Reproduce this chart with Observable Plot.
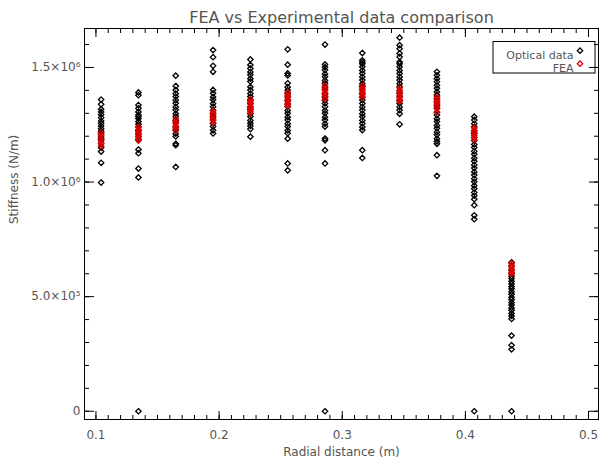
<!DOCTYPE html>
<html><head><meta charset="utf-8">
<script src="https://cdn.jsdelivr.net/npm/d3@7"></script>
<script src="https://cdn.jsdelivr.net/npm/@observablehq/plot@0.6"></script>
<style>body{margin:0;background:#fff} svg{display:block}</style>
</head><body><div id="chart"></div>
<script>
// Radial positions (m) of the 12 measurement stations
const radialPositions = [0.1042, 0.1345, 0.1648, 0.1951, 0.2254, 0.2557, 0.2860, 0.3163, 0.3466, 0.3769, 0.4072, 0.4375];

// Optical (experimental) stiffness, in 10^6 N/m, per station
const optical01 = [1.360, 1.339, 1.318, 1.306, 1.294, 1.281, 1.266, 1.256, 1.245, 1.233, 1.222, 1.210, 1.197, 1.186, 1.168, 1.150, 1.133, 1.084, 0.998];
const optical02 = [1.391, 1.379, 1.336, 1.322, 1.306, 1.293, 1.286, 1.277, 1.263, 1.252, 1.241, 1.226, 1.213, 1.198, 1.184, 1.142, 1.126, 1.059, 1.020, 0];
const optical03 = [1.464, 1.419, 1.402, 1.386, 1.373, 1.357, 1.344, 1.327, 1.315, 1.298, 1.286, 1.269, 1.257, 1.240, 1.228, 1.211, 1.199, 1.167, 1.161, 1.066];
const optical04 = [1.576, 1.545, 1.507, 1.481, 1.402, 1.388, 1.371, 1.359, 1.342, 1.329, 1.313, 1.300, 1.284, 1.271, 1.255, 1.242, 1.226, 1.212];
const optical05 = [1.535, 1.511, 1.496, 1.480, 1.468, 1.451, 1.439, 1.415, 1.402, 1.386, 1.373, 1.357, 1.344, 1.327, 1.315, 1.298, 1.286, 1.269, 1.257, 1.245, 1.231, 1.198];
const optical06 = [1.579, 1.512, 1.474, 1.465, 1.431, 1.414, 1.401, 1.387, 1.371, 1.358, 1.341, 1.329, 1.312, 1.300, 1.283, 1.271, 1.254, 1.242, 1.225, 1.213, 1.189, 1.081, 1.051];
const optical07 = [1.600, 1.513, 1.501, 1.489, 1.472, 1.460, 1.443, 1.431, 1.414, 1.402, 1.385, 1.373, 1.356, 1.343, 1.329, 1.312, 1.300, 1.283, 1.271, 1.254, 1.242, 1.190, 1.182, 1.139, 1.081, 0];
const optical08 = [1.563, 1.531, 1.523, 1.516, 1.503, 1.487, 1.474, 1.458, 1.445, 1.429, 1.416, 1.400, 1.387, 1.371, 1.358, 1.343, 1.327, 1.314, 1.298, 1.285, 1.269, 1.256, 1.240, 1.227, 1.139, 1.105];
const optical09 = [1.630, 1.597, 1.582, 1.561, 1.546, 1.524, 1.516, 1.503, 1.487, 1.474, 1.458, 1.445, 1.429, 1.416, 1.400, 1.387, 1.371, 1.358, 1.343, 1.327, 1.314, 1.298, 1.252];
const optical10 = [1.481, 1.466, 1.451, 1.438, 1.422, 1.409, 1.393, 1.380, 1.364, 1.351, 1.335, 1.322, 1.305, 1.293, 1.276, 1.264, 1.247, 1.235, 1.218, 1.206, 1.189, 1.177, 1.167, 1.117, 1.027];
const optical11 = [1.285, 1.271, 1.254, 1.241, 1.224, 1.211, 1.194, 1.181, 1.164, 1.151, 1.134, 1.121, 1.104, 1.091, 1.074, 1.061, 1.044, 1.031, 1.014, 1.001, 0.984, 0.971, 0.954, 0.941, 0.925, 0.899, 0.855, 0.838, 0];
const optical12 = [0.650, 0.636, 0.616, 0.601, 0.589, 0.579, 0.567, 0.556, 0.544, 0.534, 0.521, 0.511, 0.497, 0.488, 0.474, 0.464, 0.451, 0.441, 0.427, 0.416, 0.403, 0.330, 0.288, 0.270, 0];

// FEA stiffness, in 10^6 N/m, per station
const fea01 = [1.215, 1.204, 1.191, 1.179, 1.168, 1.157];
const fea02 = [1.240, 1.229, 1.221, 1.209, 1.201, 1.189, 1.181];
const fea03 = [1.276, 1.264, 1.256, 1.244, 1.236, 1.224];
const fea04 = [1.311, 1.299, 1.291, 1.279, 1.271, 1.259];
const fea05 = [1.361, 1.349, 1.341, 1.329, 1.321, 1.309, 1.301];
const fea06 = [1.391, 1.379, 1.371, 1.359, 1.351, 1.339, 1.331];
const fea07 = [1.421, 1.409, 1.401, 1.389, 1.381, 1.369, 1.361];
const fea08 = [1.421, 1.409, 1.401, 1.389, 1.381, 1.369];
const fea09 = [1.411, 1.399, 1.391, 1.379, 1.371, 1.359, 1.351];
const fea10 = [1.372, 1.361, 1.349, 1.341, 1.329, 1.321, 1.306];
const fea11 = [1.236, 1.224, 1.216, 1.204, 1.196, 1.184];
const fea12 = [0.646, 0.634, 0.626, 0.614, 0.606, 0.599];

const xTicks = [0.1, 0.2, 0.3, 0.4, 0.5];
const yTicks = [0, 500000, 1000000, 1500000];
const yTickLabels = ["0", "5.0×10⁵", "1.0×10⁶", "1.5×10⁶"];
const titleText = "FEA vs Experimental data comparison";
const xLabel = "Radial distance (m)";
const yLabel = "Stiffness (N/m)";
const legendLabels = ["Optical data", "FEA"];
const legendColors = ["black", "#e00000"];

const MEGA = 1e6; // unit conversion 10^6 N/m -> N/m
const opticalCols = [optical01, optical02, optical03, optical04, optical05, optical06, optical07, optical08, optical09, optical10, optical11, optical12];
const feaCols = [fea01, fea02, fea03, fea04, fea05, fea06, fea07, fea08, fea09, fea10, fea11, fea12];
const optical = opticalCols.flatMap((col, i) => col.map(v => ({r: radialPositions[i], k: v * MEGA})));
const fea = feaCols.flatMap((col, i) => col.map(v => ({r: radialPositions[i], k: v * MEGA})));

const xMinor = d3.range(10, 51).map(d => d / 100);
const yMinor = d3.range(0, 17).map(d => d * 1e5);

const diamond = {
  draw(ctx, size) {
    const h = Math.sqrt(size / Math.PI);
    ctx.moveTo(0, -h); ctx.lineTo(h, 0); ctx.lineTo(0, h); ctx.lineTo(-h, 0); ctx.closePath();
  }
};

const FONT = "DejaVu Sans";
const TXT = "#555";
const noLabel = () => "";

const plot = Plot.plot({
  width: 600, height: 465,
  marginLeft: 84, marginRight: 2, marginTop: 28, marginBottom: 46,
  style: {fontFamily: FONT, background: "#fff"},
  x: {domain: [0.0907, 0.5081], axis: null},
  y: {domain: [-36000, 1670000], axis: null},
  marks: [
    Plot.axisX(xMinor, {anchor: "bottom", tickSize: -4, tickFormat: noLabel, label: null}),
    Plot.axisX(xMinor, {anchor: "top", tickSize: -4, tickFormat: noLabel, label: null}),
    Plot.axisY(yMinor, {anchor: "left", tickSize: -5, tickFormat: noLabel, label: null}),
    Plot.axisY(yMinor, {anchor: "right", tickSize: -5, tickFormat: noLabel, label: null}),
    Plot.axisX(xTicks, {anchor: "bottom", tickSize: -8, tickFormat: noLabel, label: null}),
    Plot.axisX(xTicks, {anchor: "top", tickSize: -8, tickFormat: noLabel, label: null}),
    Plot.axisY(yTicks, {anchor: "left", tickSize: -10, tickFormat: noLabel, label: null}),
    Plot.axisY(yTicks, {anchor: "right", tickSize: -10, tickFormat: noLabel, label: null}),
    Plot.axisX(xTicks, {anchor: "bottom", tickSize: 0, tickPadding: 11, tickFormat: d => d.toFixed(1), label: null, fontSize: 12, fill: TXT}),
    Plot.axisY(yTicks, {anchor: "left", tickSize: 0, tickPadding: 4, tickFormat: d => yTickLabels[yTicks.indexOf(d)], label: null, fontSize: 12, fill: TXT}),
    Plot.frame({stroke: "black", strokeWidth: 1}),
    Plot.dot(optical, {x: "r", y: "k", symbol: diamond, r: 2.7, stroke: legendColors[0], strokeWidth: 1.3, fill: "none"}),
    Plot.dot(fea, {x: "r", y: "k", symbol: diamond, r: 2.7, stroke: legendColors[1], strokeWidth: 1.3, fill: "none"}),
    Plot.text([titleText], {frameAnchor: "top", dy: -17, text: d => d, fontSize: 16, letterSpacing: "0.8px", fill: TXT}),
    Plot.text([xLabel], {frameAnchor: "bottom", dy: 36, text: d => d, fontSize: 12, letterSpacing: "0.3px", fill: TXT}),
    Plot.text([yLabel], {frameAnchor: "left", dx: -70, rotate: -90, text: d => d, fontSize: 12, letterSpacing: "0.3px", fill: TXT}),
    Plot.text([legendLabels[0]], {frameAnchor: "top-right", dx: -25, dy: 22.2, text: d => d, textAnchor: "end", fontSize: 11, fill: TXT}),
    Plot.text([legendLabels[1]], {frameAnchor: "top-right", dx: -25, dy: 35.2, text: d => d, textAnchor: "end", fontSize: 11, fill: TXT}),
    Plot.dot([0], {frameAnchor: "top-right", dx: -18.5, dy: 22.2, symbol: diamond, r: 2.7, stroke: legendColors[0], strokeWidth: 1.3, fill: "none"}),
    Plot.dot([0], {frameAnchor: "top-right", dx: -18.5, dy: 35.2, symbol: diamond, r: 2.7, stroke: legendColors[1], strokeWidth: 1.3, fill: "none"})
  ]
});

const svg = d3.select(plot);
svg.append("rect")
  .attr("x", 600 - 2 - 105).attr("y", 28 + 13.5)
  .attr("width", 102).attr("height", 31.5)
  .attr("fill", "none").attr("stroke", "black").attr("stroke-width", 1);

document.getElementById("chart").appendChild(plot);
</script>
</body></html>
